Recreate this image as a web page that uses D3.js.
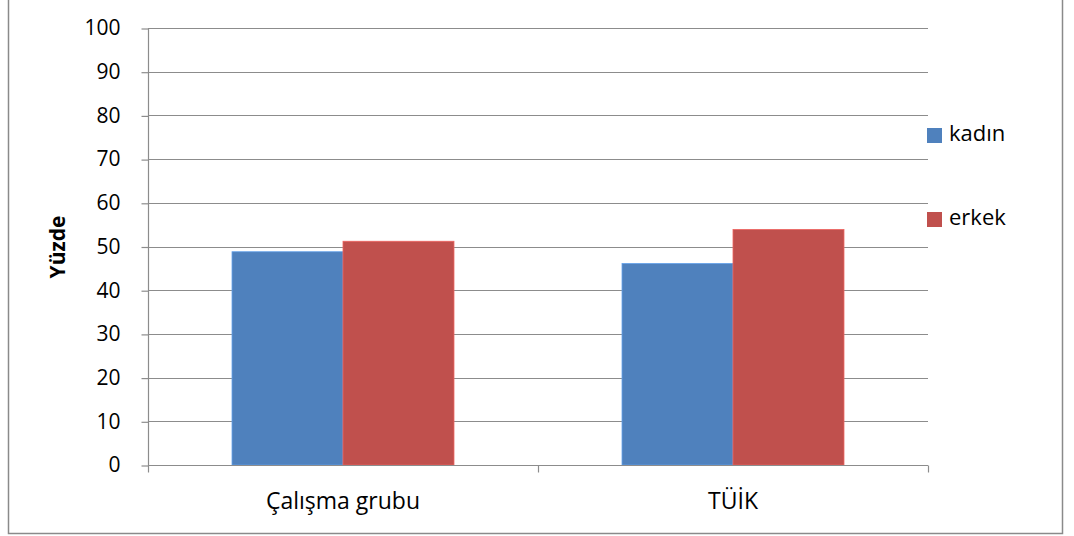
<!DOCTYPE html>
<html>
<head>
<meta charset="utf-8">
<script src="https://cdn.jsdelivr.net/npm/d3@7"></script>
<style>
  html, body { margin: 0; padding: 0; background: #fff; }
  svg { display: block; }
  text { font-family: "Open Sans", "Noto Sans", sans-serif; fill: #000; }
</style>
</head>
<body>
<svg id="chart" width="1074" height="536"></svg>
<script>
// Gender distribution (%) of the study group vs. national statistics
const categories = ["Çalışma grubu", "TÜİK"];
const seriesNames = ["kadın", "erkek"];
const kadin = [48.8, 46.1];
const erkek = [51.2, 53.9];
const yTicks = [0, 10, 20, 30, 40, 50, 60, 70, 80, 90, 100];
const yTitle = "Yüzde";

const colors = { "kadın": "#4F81BD", "erkek": "#C0504D" };
const series = [
  { name: seriesNames[0], values: kadin },
  { name: seriesNames[1], values: erkek }
];

const svg = d3.select("#chart");
const plot = { left: 148, right: 928, top: 28, bottom: 465 };
const gridColor = "#8c8c8c";

// outer frame
svg.append("rect")
  .attr("x", 8.5).attr("y", -2).attr("width", 1054).attr("height", 535.5)
  .attr("fill", "none").attr("stroke", "#8a8a8a").attr("stroke-width", 1.5);

const x = d3.scaleBand().domain(categories).range([plot.left, plot.right]).paddingInner(0).paddingOuter(0);
const xSub = d3.scaleBand().domain(seriesNames).range([0, x.bandwidth()]).paddingInner(0).paddingOuter(0.757);
const y = d3.scaleLinear().domain([0, 100]).range([plot.bottom, plot.top]);

// horizontal gridlines
svg.append("g").selectAll("line").data(yTicks.filter(d => d > 0)).join("line")
  .attr("x1", plot.left).attr("x2", plot.right)
  .attr("y1", d => Math.round(y(d)) + 0.5).attr("y2", d => Math.round(y(d)) + 0.5)
  .attr("stroke", gridColor).attr("stroke-width", 1.2);

// bars
const groups = svg.append("g").selectAll("g").data(series).join("g")
  .attr("fill", d => colors[d.name]);
groups.selectAll("rect").data(d => d.values.map((v, i) => ({ cat: categories[i], name: d.name, v }))).join("rect")
  .attr("x", d => x(d.cat) + xSub(d.name))
  .attr("width", xSub.bandwidth())
  .attr("y", d => y(d.v))
  .attr("height", d => y(0) - y(d.v))
  .attr("stroke", d => d3.color(colors[d.name]).brighter(0.6))
  .attr("stroke-width", 0.8);

// y axis
const yAxis = d3.axisLeft(y).tickValues(yTicks).tickSize(7).tickPadding(21).tickFormat(d3.format("d"));
const gy = svg.append("g").attr("transform", `translate(${plot.left + 0.5},0.5)`).call(yAxis);
gy.select(".domain").attr("stroke", gridColor).attr("stroke-width", 1.2).attr("d", `M0,${plot.top}V${plot.bottom}`);
gy.selectAll(".tick line").attr("stroke", gridColor).attr("stroke-width", 1.2);
gy.selectAll(".tick text").style("font-size", "21px").attr("fill", "#000").attr("dy", "0.3em");

// x axis
const xAxis = d3.axisBottom(x).tickSize(0).tickPadding(0);
const gx = svg.append("g").attr("transform", `translate(0,${plot.bottom + 0.5})`).call(xAxis);
gx.select(".domain").attr("stroke", gridColor).attr("stroke-width", 1.2).attr("d", `M${plot.left},0H${plot.right}`);
gx.selectAll(".tick text").style("font-size", "23px").attr("fill", "#000").attr("y", 43).attr("dy", 0);
// category boundary ticks
const bounds = categories.map(c => x(c)).concat([x.range()[1]]);
gx.append("g").selectAll("line").data(bounds).join("line")
  .attr("x1", d => Math.round(d) + 0.5).attr("x2", d => Math.round(d) + 0.5)
  .attr("y1", 0).attr("y2", 7)
  .attr("stroke", gridColor).attr("stroke-width", 1.2);

// y axis title
svg.append("text")
  .attr("transform", `translate(65,247) rotate(-90)`)
  .attr("text-anchor", "middle")
  .style("font-size", "21px").style("font-weight", "bold")
  .text(yTitle);

// legend
const legend = svg.append("g").selectAll("g").data(series).join("g")
  .attr("transform", (d, i) => `translate(927,${128 + i * 84})`);
legend.append("rect").attr("width", 15).attr("height", 15).attr("fill", d => colors[d.name]);
legend.append("text").attr("x", 22).attr("y", 13).style("font-size", "22px").text(d => d.name);
</script>
</body>
</html>
